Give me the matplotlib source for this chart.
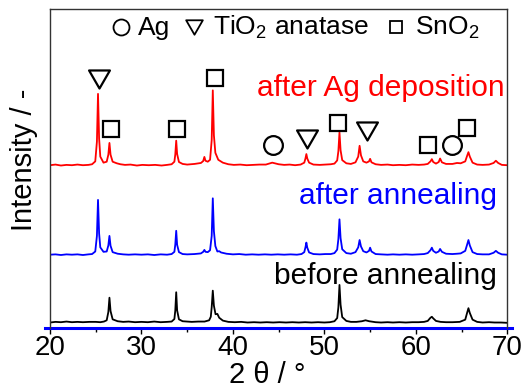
import numpy as np
import matplotlib
matplotlib.use('Agg')
import matplotlib.pyplot as plt
from matplotlib.path import Path

plt.rcParams['font.family'] = ['Liberation Sans', 'DejaVu Sans']
plt.rcParams['mathtext.fontset'] = 'custom'
plt.rcParams['mathtext.rm'] = 'Liberation Sans'
plt.rcParams['mathtext.it'] = 'Liberation Sans:italic'
plt.rcParams['mathtext.default'] = 'regular'

# XRD traces: (2 theta, intensity above own baseline)
red_pts = [
    (20.0, 0.1), (20.6, 0.3), (21.2, 0.0), (21.8, 0.2), (22.4, 0.1), (23.0, 0.3), (23.6, 0.1),
    (24.2, 0.2), (24.6, 0.4), (24.95, 1.3), (25.13, 7.5), (25.25, 22.5), (25.37, 8.5), (25.5, 2.8),
    (25.85, 0.9), (26.2, 1.2), (26.38, 3.4), (26.5, 7.1), (26.62, 3.4), (26.85, 1.2), (27.3, 0.7),
    (27.7, 0.4), (28.2, 0.2), (28.8, 0.3), (29.5, 0.0), (30.1, 0.2), (30.8, 0.1), (31.5, 0.2),
    (32.2, 0.0), (32.8, 0.2), (33.3, 0.4), (33.6, 1.2), (33.7, 3.5), (33.8, 7.8), (33.9, 3.6),
    (34.1, 1.1), (34.5, 0.5), (35.0, 0.3), (35.8, 0.5), (36.5, 0.8), (36.75, 1.4), (36.88, 2.7),
    (37.0, 1.5), (37.25, 1.2), (37.5, 1.8), (37.68, 8.0), (37.8, 23.6), (37.92, 9.5), (38.08, 4.0),
    (38.4, 1.8), (38.9, 0.9), (39.5, 0.4), (40.1, 0.2), (40.8, 0.3), (41.5, 0.1), (42.2, 0.2),
    (42.9, 0.3), (43.6, 0.3), (44.3, 0.9), (45.0, 0.4), (45.6, 0.2), (46.2, 0.3), (46.8, 0.1),
    (47.4, 0.3), (47.8, 0.9), (47.93, 2.2), (48.03, 3.6), (48.13, 2.2), (48.33, 0.9), (48.8, 0.3),
    (49.5, 0.2), (50.1, 0.3), (50.7, 0.4), (51.1, 0.6), (51.4, 1.6), (51.53, 4.5), (51.65, 10.4),
    (51.77, 4.8), (51.95, 1.7), (52.4, 0.7), (52.9, 0.5), (53.4, 1.0), (53.7, 2.8), (53.85, 6.2),
    (54.0, 3.2), (54.25, 1.3), (54.6, 0.9), (54.88, 1.3), (55.0, 2.1), (55.15, 1.0), (55.6, 0.4),
    (56.2, 0.2), (56.9, 0.3), (57.5, 0.1), (58.2, 0.2), (58.9, 0.1), (59.6, 0.3), (60.3, 0.2),
    (60.9, 0.3), (61.3, 0.5), (61.6, 1.3), (61.75, 2.0), (61.9, 1.1), (62.2, 0.6), (62.5, 1.1),
    (62.65, 2.2), (62.85, 1.0), (63.3, 0.5), (64.0, 0.5), (64.5, 0.8), (64.9, 0.7), (65.4, 1.3),
    (65.6, 3.0), (65.75, 4.2), (65.9, 2.8), (66.2, 0.9), (66.7, 0.3), (67.3, 0.2), (68.0, 0.3),
    (68.5, 0.8), (68.75, 1.5), (69.0, 0.8), (69.4, 0.2), (70.0, 0.1),
]
blue_pts = [
    (20.0, 0.1), (20.6, 0.2), (21.2, 0.0), (21.8, 0.2), (22.4, 0.1), (23.0, 0.2), (23.6, 0.0),
    (24.2, 0.2), (24.6, 0.3), (24.95, 1.1), (25.13, 6.0), (25.25, 17.3), (25.37, 6.8), (25.5, 2.4),
    (25.85, 1.0), (26.2, 1.1), (26.38, 3.0), (26.5, 6.0), (26.62, 2.9), (26.85, 0.9), (27.4, 0.4),
    (28.0, 0.2), (28.6, 0.1), (29.3, 0.2), (30.0, 0.1), (30.7, 0.2), (31.4, 0.0), (32.1, 0.2),
    (32.8, 0.1), (33.3, 0.3), (33.6, 1.0), (33.7, 3.3), (33.8, 7.6), (33.9, 3.2), (34.1, 0.9),
    (34.5, 0.3), (35.0, 0.2), (35.8, 0.3), (36.5, 0.5), (36.75, 1.0), (36.88, 1.6), (37.0, 1.0),
    (37.25, 0.9), (37.5, 1.5), (37.68, 6.0), (37.8, 17.8), (37.92, 7.5), (38.08, 2.8), (38.3, 1.1),
    (38.5, 1.2), (38.7, 0.8), (39.3, 0.4), (40.0, 0.2), (40.7, 0.3), (41.4, 0.1), (42.1, 0.2),
    (42.8, 0.1), (43.5, 0.2), (44.2, 0.1), (44.9, 0.2), (45.6, 0.1), (46.3, 0.2), (47.0, 0.1),
    (47.5, 0.3), (47.8, 0.9), (47.93, 2.4), (48.03, 3.9), (48.13, 2.3), (48.33, 0.8), (48.8, 0.3),
    (49.5, 0.2), (50.1, 0.3), (50.7, 0.3), (51.1, 0.6), (51.4, 1.7), (51.53, 5.0), (51.65, 11.2),
    (51.77, 5.3), (51.95, 1.8), (52.4, 0.6), (52.9, 0.4), (53.4, 0.9), (53.7, 2.4), (53.85, 4.7),
    (54.0, 2.7), (54.25, 1.2), (54.6, 0.8), (54.88, 1.3), (55.0, 2.3), (55.15, 1.1), (55.6, 0.3),
    (56.2, 0.2), (56.9, 0.1), (57.5, 0.2), (58.2, 0.1), (58.9, 0.2), (59.6, 0.1), (60.3, 0.2),
    (60.9, 0.3), (61.3, 0.6), (61.6, 1.5), (61.75, 2.3), (61.9, 1.3), (62.2, 0.7), (62.5, 1.1),
    (62.65, 1.9), (62.85, 1.0), (63.3, 0.4), (64.0, 0.3), (64.5, 0.4), (64.9, 0.5), (65.4, 1.3),
    (65.6, 3.2), (65.75, 4.7), (65.9, 3.0), (66.2, 0.9), (66.7, 0.3), (67.3, 0.2), (68.0, 0.2),
    (68.5, 0.7), (68.75, 1.3), (69.0, 0.7), (69.4, 0.2), (70.0, 0.1),
]
black_pts = [
    (20.0, 0.2), (20.6, 0.4), (21.2, 0.3), (21.8, 0.5), (22.4, 0.3), (23.0, 0.4), (23.6, 0.3),
    (24.3, 0.4), (25.0, 0.4), (25.5, 0.3), (25.9, 0.5), (26.2, 0.9), (26.38, 3.5), (26.5, 8.0),
    (26.62, 3.8), (26.85, 1.2), (27.4, 0.6), (28.0, 0.4), (28.6, 0.5), (29.3, 0.3), (30.0, 0.4),
    (30.7, 0.3), (31.4, 0.5), (32.1, 0.3), (32.8, 0.4), (33.3, 0.5), (33.6, 1.3), (33.7, 4.0),
    (33.8, 9.7), (33.9, 4.0), (34.1, 1.2), (34.5, 0.6), (35.0, 0.5), (35.5, 0.4), (36.2, 0.5),
    (36.9, 0.5), (37.4, 0.9), (37.58, 2.0), (37.68, 5.0), (37.8, 10.2), (37.92, 5.5), (38.1, 2.8),
    (38.3, 2.9), (38.5, 1.7), (38.9, 0.8), (39.5, 0.4), (40.2, 0.3), (40.9, 0.4), (41.6, 0.2),
    (42.3, 0.3), (43.0, 0.2), (43.7, 0.3), (44.4, 0.2), (45.1, 0.3), (45.8, 0.2), (46.5, 0.3),
    (47.2, 0.2), (47.9, 0.3), (48.6, 0.2), (49.3, 0.3), (50.0, 0.2), (50.6, 0.3), (51.1, 0.6),
    (51.4, 1.6), (51.53, 5.0), (51.65, 12.0), (51.77, 5.8), (51.95, 1.9), (52.4, 0.7), (52.9, 0.4),
    (53.5, 0.4), (54.1, 0.6), (54.5, 0.9), (54.9, 0.6), (55.6, 0.3), (56.2, 0.2), (56.9, 0.3),
    (57.5, 0.2), (58.2, 0.3), (58.9, 0.2), (59.6, 0.3), (60.3, 0.3), (60.9, 0.4), (61.3, 0.7),
    (61.6, 1.7), (61.75, 2.0), (61.9, 1.5), (62.2, 0.7), (62.7, 0.4), (63.3, 0.3), (64.0, 0.3),
    (64.8, 0.4), (65.4, 1.1), (65.6, 3.2), (65.75, 4.7), (65.9, 3.2), (66.2, 1.1), (66.7, 0.4),
    (67.3, 0.2), (68.0, 0.3), (68.6, 0.2), (69.3, 0.2), (70.0, 0.1),
]

trace_labels = ['after Ag deposition', 'after annealing', 'before annealing']
trace_colors = ['#ff0000', '#0000ff', '#000000']
trace_offsets = [51.0, 22.9, 1.5]

# phase marker positions (2 theta, height)
tio2_tt = [25.4, 48.1, 54.7]
tio2_y = [78.1, 59.2, 61.9]
sno2_tt = [26.7, 33.9, 38.0, 51.5, 61.3, 65.6]
sno2_y = [62.5, 62.5, 78.4, 64.5, 57.3, 62.9]
ag_tt = [44.4, 63.9]
ag_y = [57.5, 57.5]

tri_down = Path([(-1, 0.866), (1, 0.866), (0, -0.866), (-1, 0.866)], closed=True)

fig = plt.figure(figsize=(5.29, 3.89), dpi=100)
ax = fig.add_axes([0.0945, 0.157, 0.8645, 0.8186])

for pts, color, off in zip([red_pts, blue_pts, black_pts], trace_colors, trace_offsets):
    arr = np.array(pts)
    ax.plot(arr[:, 0], arr[:, 1] + off, color=color, lw=1.3)

mk = dict(linestyle='none', markerfacecolor='white', markeredgecolor='black', markeredgewidth=1.6)
ax.plot(tio2_tt, tio2_y, marker=tri_down, markersize=15, **mk)
ax.plot(sno2_tt, sno2_y, marker='s', markersize=11.5, **mk)
ax.plot(ag_tt, ag_y, marker='o', markersize=13.5, **mk)

# trace labels
ax.text(69.75, 72.8, trace_labels[0], color=trace_colors[0], fontsize=21.5, ha='right', va='baseline')
ax.text(68.85, 38.9, trace_labels[1], color=trace_colors[1], fontsize=21.5, ha='right', va='baseline')
ax.text(68.85, 13.7, trace_labels[2], color=trace_colors[2], fontsize=21.5, ha='right', va='baseline')

# key at top
mk_small = dict(linestyle='none', markerfacecolor='white', markeredgecolor='black',
                markeredgewidth=1.3, clip_on=False)
ax.plot([27.73], [94.4], marker='o', markersize=11.5, **mk_small)
ax.plot([35.78], [94.4], marker=tri_down, markersize=12, **mk_small)
ax.plot([57.8], [94.4], marker='s', markersize=9, **mk_small)
ax.text(29.6, 92.0, 'Ag', fontsize=19, va='baseline')
ax.text(37.8, 92.0, 'TiO$_2$ anatase', fontsize=19, va='baseline')
ax.text(59.9, 92.0, 'SnO$_2$', fontsize=19, va='baseline')

ax.set_xlim(20, 70)
ax.set_ylim(0, 100)
ax.set_xticks([20, 30, 40, 50, 60, 70])
ax.set_xticks([25, 35, 45, 55, 65], minor=True)
ax.set_yticks([])
ax.tick_params(axis='x', which='major', direction='out', length=4.5, width=1, labelsize=20, pad=0.3)
ax.tick_params(axis='x', which='minor', direction='out', length=3, width=1)

for side in ['top', 'right', 'left']:
    ax.spines[side].set_color('#333333')
    ax.spines[side].set_linewidth(1)
ax.spines['bottom'].set_visible(False)
ax.axhline(0, xmin=-0.01, xmax=1.01, color='#0000ff', lw=2.2, clip_on=False)

ax.text(-0.057, 0.527, 'Intensity / -', transform=ax.transAxes, rotation=90,
        fontsize=21, ha='center', va='center')
ax.text(0.476, -0.104, '2 θ / °', transform=ax.transAxes, fontsize=21, ha='center', va='top')

fig.savefig('out.png', dpi=100)
